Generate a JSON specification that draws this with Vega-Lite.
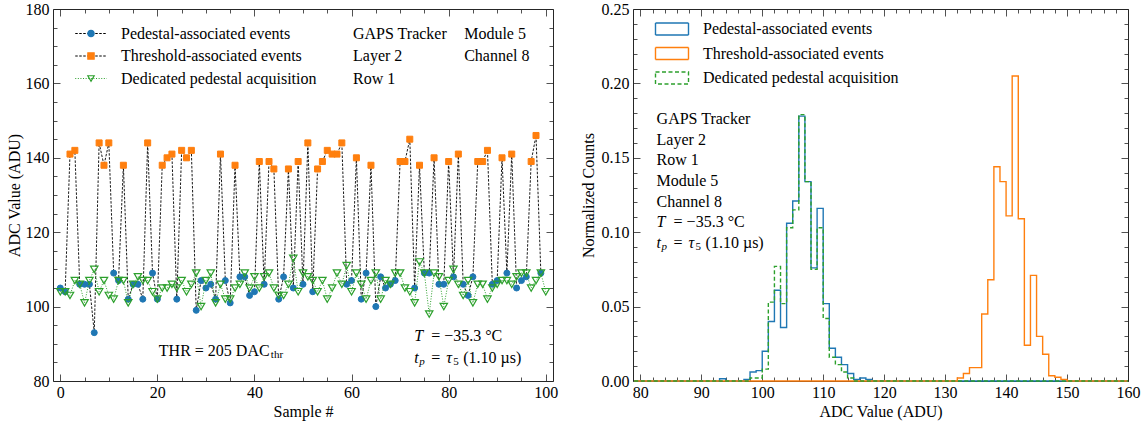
{
"$schema":"https://vega.github.io/schema/vega-lite/v6.json",
"padding":{"left":5,"top":0,"right":5,"bottom":5},
"config":{"font":"Liberation Serif","view":{"stroke":"#262626","strokeWidth":1},
"axis":{"labelFont":"Liberation Serif","labelFontSize":16,"labelColor":"black","titleFont":"Liberation Serif","titleFontSize":16,"titleFontWeight":"normal","titleColor":"black","domain":false,"grid":false,"tickColor":"#262626","tickWidth":0.8,"labelOverlap":false,"labelFlush":false,"labelBound":false},
"legend":{"labelFont":"Liberation Serif","labelFontSize":16,"labelColor":"black","padding":0,"labelLimit":400},
"text":{"font":"Liberation Serif","fontSize":16,"color":"black"}},
"datasets":{
"adc":[
{"sample":0,"adc":105,"series":"Pedestal-associated events"},{"sample":1,"adc":104,"series":"Pedestal-associated events"},{"sample":2,"adc":141,"series":"Threshold-associated events"},{"sample":3,"adc":142,"series":"Threshold-associated events"},{"sample":4,"adc":106,"series":"Pedestal-associated events"},{"sample":5,"adc":106,"series":"Pedestal-associated events"},{"sample":6,"adc":106,"series":"Pedestal-associated events"},{"sample":7,"adc":93,"series":"Pedestal-associated events"},{"sample":8,"adc":144,"series":"Threshold-associated events"},{"sample":9,"adc":138,"series":"Threshold-associated events"},
{"sample":10,"adc":144,"series":"Threshold-associated events"},{"sample":11,"adc":109,"series":"Pedestal-associated events"},{"sample":12,"adc":107,"series":"Pedestal-associated events"},{"sample":13,"adc":138,"series":"Threshold-associated events"},{"sample":14,"adc":102,"series":"Pedestal-associated events"},{"sample":15,"adc":106,"series":"Pedestal-associated events"},{"sample":16,"adc":106,"series":"Pedestal-associated events"},{"sample":17,"adc":102,"series":"Pedestal-associated events"},{"sample":18,"adc":144,"series":"Threshold-associated events"},{"sample":19,"adc":109,"series":"Pedestal-associated events"},
{"sample":20,"adc":102,"series":"Pedestal-associated events"},{"sample":21,"adc":138,"series":"Threshold-associated events"},{"sample":22,"adc":140,"series":"Threshold-associated events"},{"sample":23,"adc":141,"series":"Threshold-associated events"},{"sample":24,"adc":102,"series":"Pedestal-associated events"},{"sample":25,"adc":142,"series":"Threshold-associated events"},{"sample":26,"adc":140,"series":"Threshold-associated events"},{"sample":27,"adc":142,"series":"Threshold-associated events"},{"sample":28,"adc":99,"series":"Pedestal-associated events"},{"sample":29,"adc":107,"series":"Pedestal-associated events"},
{"sample":30,"adc":105,"series":"Pedestal-associated events"},{"sample":31,"adc":106,"series":"Pedestal-associated events"},{"sample":32,"adc":102,"series":"Pedestal-associated events"},{"sample":33,"adc":141,"series":"Threshold-associated events"},{"sample":34,"adc":107,"series":"Pedestal-associated events"},{"sample":35,"adc":101,"series":"Pedestal-associated events"},{"sample":36,"adc":138,"series":"Threshold-associated events"},{"sample":37,"adc":108,"series":"Pedestal-associated events"},{"sample":38,"adc":108,"series":"Pedestal-associated events"},{"sample":39,"adc":103,"series":"Pedestal-associated events"},
{"sample":40,"adc":104,"series":"Pedestal-associated events"},{"sample":41,"adc":139,"series":"Threshold-associated events"},{"sample":42,"adc":106,"series":"Pedestal-associated events"},{"sample":43,"adc":139,"series":"Threshold-associated events"},{"sample":44,"adc":137,"series":"Threshold-associated events"},{"sample":45,"adc":102,"series":"Pedestal-associated events"},{"sample":46,"adc":108,"series":"Pedestal-associated events"},{"sample":47,"adc":137,"series":"Threshold-associated events"},{"sample":48,"adc":105,"series":"Pedestal-associated events"},{"sample":49,"adc":139,"series":"Threshold-associated events"},
{"sample":50,"adc":106,"series":"Pedestal-associated events"},{"sample":51,"adc":144,"series":"Threshold-associated events"},{"sample":52,"adc":104,"series":"Pedestal-associated events"},{"sample":53,"adc":137,"series":"Threshold-associated events"},{"sample":54,"adc":139,"series":"Threshold-associated events"},{"sample":55,"adc":142,"series":"Threshold-associated events"},{"sample":56,"adc":141,"series":"Threshold-associated events"},{"sample":57,"adc":141,"series":"Threshold-associated events"},{"sample":58,"adc":144,"series":"Threshold-associated events"},{"sample":59,"adc":106,"series":"Pedestal-associated events"},
{"sample":60,"adc":107,"series":"Pedestal-associated events"},{"sample":61,"adc":140,"series":"Threshold-associated events"},{"sample":62,"adc":102,"series":"Pedestal-associated events"},{"sample":63,"adc":109,"series":"Pedestal-associated events"},{"sample":64,"adc":138,"series":"Threshold-associated events"},{"sample":65,"adc":100,"series":"Pedestal-associated events"},{"sample":66,"adc":108,"series":"Pedestal-associated events"},{"sample":67,"adc":105,"series":"Pedestal-associated events"},{"sample":68,"adc":106,"series":"Pedestal-associated events"},{"sample":69,"adc":107,"series":"Pedestal-associated events"},
{"sample":70,"adc":139,"series":"Threshold-associated events"},{"sample":71,"adc":139,"series":"Threshold-associated events"},{"sample":72,"adc":145,"series":"Threshold-associated events"},{"sample":73,"adc":105,"series":"Pedestal-associated events"},{"sample":74,"adc":138,"series":"Threshold-associated events"},{"sample":75,"adc":109,"series":"Pedestal-associated events"},{"sample":76,"adc":109,"series":"Pedestal-associated events"},{"sample":77,"adc":140,"series":"Threshold-associated events"},{"sample":78,"adc":106,"series":"Pedestal-associated events"},{"sample":79,"adc":106,"series":"Pedestal-associated events"},
{"sample":80,"adc":139,"series":"Threshold-associated events"},{"sample":81,"adc":108,"series":"Pedestal-associated events"},{"sample":82,"adc":141,"series":"Threshold-associated events"},{"sample":83,"adc":106,"series":"Pedestal-associated events"},{"sample":84,"adc":103,"series":"Pedestal-associated events"},{"sample":85,"adc":108,"series":"Pedestal-associated events"},{"sample":86,"adc":139,"series":"Threshold-associated events"},{"sample":87,"adc":139,"series":"Threshold-associated events"},{"sample":88,"adc":142,"series":"Threshold-associated events"},{"sample":89,"adc":106,"series":"Pedestal-associated events"},
{"sample":90,"adc":107,"series":"Pedestal-associated events"},{"sample":91,"adc":140,"series":"Threshold-associated events"},{"sample":92,"adc":109,"series":"Pedestal-associated events"},{"sample":93,"adc":141,"series":"Threshold-associated events"},{"sample":94,"adc":105,"series":"Pedestal-associated events"},{"sample":95,"adc":107,"series":"Pedestal-associated events"},{"sample":96,"adc":108,"series":"Pedestal-associated events"},{"sample":97,"adc":139,"series":"Threshold-associated events"},{"sample":98,"adc":146,"series":"Threshold-associated events"},{"sample":99,"adc":109,"series":"Pedestal-associated events"}
],
"ded":[
{"sample":0,"adc":104},{"sample":1,"adc":104},{"sample":2,"adc":103},{"sample":3,"adc":107},{"sample":4,"adc":106},{"sample":5,"adc":101},{"sample":6,"adc":107},{"sample":7,"adc":110},{"sample":8,"adc":104},{"sample":9,"adc":107},
{"sample":10,"adc":103},{"sample":11,"adc":102},{"sample":12,"adc":107},{"sample":13,"adc":107},{"sample":14,"adc":101},{"sample":15,"adc":106},{"sample":16,"adc":108},{"sample":17,"adc":107},{"sample":18,"adc":107},{"sample":19,"adc":104},
{"sample":20,"adc":102},{"sample":21,"adc":105},{"sample":22,"adc":105},{"sample":23,"adc":106},{"sample":24,"adc":105},{"sample":25,"adc":107},{"sample":26,"adc":104},{"sample":27,"adc":106},{"sample":28,"adc":109},{"sample":29,"adc":100},
{"sample":30,"adc":107},{"sample":31,"adc":109},{"sample":32,"adc":101},{"sample":33,"adc":106},{"sample":34,"adc":102},{"sample":35,"adc":102},{"sample":36,"adc":105},{"sample":37,"adc":106},{"sample":38,"adc":109},{"sample":39,"adc":105},
{"sample":40,"adc":108},{"sample":41,"adc":105},{"sample":42,"adc":108},{"sample":43,"adc":109},{"sample":44,"adc":105},{"sample":45,"adc":103},{"sample":46,"adc":103},{"sample":47,"adc":106},{"sample":48,"adc":113},{"sample":49,"adc":104},
{"sample":50,"adc":109},{"sample":51,"adc":108},{"sample":52,"adc":107},{"sample":53,"adc":104},{"sample":54,"adc":107},{"sample":55,"adc":102},{"sample":56,"adc":105},{"sample":57,"adc":109},{"sample":58,"adc":106},{"sample":59,"adc":111},
{"sample":60,"adc":104},{"sample":61,"adc":109},{"sample":62,"adc":106},{"sample":63,"adc":102},{"sample":64,"adc":107},{"sample":65,"adc":109},{"sample":66,"adc":102},{"sample":67,"adc":107},{"sample":68,"adc":106},{"sample":69,"adc":109},
{"sample":70,"adc":109},{"sample":71,"adc":105},{"sample":72,"adc":104},{"sample":73,"adc":101},{"sample":74,"adc":112},{"sample":75,"adc":109},{"sample":76,"adc":98},{"sample":77,"adc":109},{"sample":78,"adc":108},{"sample":79,"adc":100},
{"sample":80,"adc":107},{"sample":81,"adc":110},{"sample":82,"adc":106},{"sample":83,"adc":103},{"sample":84,"adc":107},{"sample":85,"adc":101},{"sample":86,"adc":106},{"sample":87,"adc":106},{"sample":88,"adc":102},{"sample":89,"adc":105},
{"sample":90,"adc":106},{"sample":91,"adc":107},{"sample":92,"adc":107},{"sample":93,"adc":106},{"sample":94,"adc":108},{"sample":95,"adc":109},{"sample":96,"adc":109},{"sample":97,"adc":105},{"sample":98,"adc":107},{"sample":99,"adc":109},{"sample":100,"adc":104}
],
"hist":[
{"adc":79,"frac":0,"s":"Pedestal-associated events"},{"adc":93,"frac":0.0015,"s":"Pedestal-associated events"},{"adc":94,"frac":0,"s":"Pedestal-associated events"},{"adc":97,"frac":0.001,"s":"Pedestal-associated events"},{"adc":98,"frac":0.006,"s":"Pedestal-associated events"},{"adc":99,"frac":0.007,"s":"Pedestal-associated events"},{"adc":100,"frac":0.020,"s":"Pedestal-associated events"},{"adc":101,"frac":0.040,"s":"Pedestal-associated events"},{"adc":102,"frac":0.061,"s":"Pedestal-associated events"},{"adc":103,"frac":0.036,"s":"Pedestal-associated events"},{"adc":104,"frac":0.106,"s":"Pedestal-associated events"},{"adc":105,"frac":0.121,"s":"Pedestal-associated events"},{"adc":106,"frac":0.178,"s":"Pedestal-associated events"},{"adc":107,"frac":0.134,"s":"Pedestal-associated events"},{"adc":108,"frac":0.076,"s":"Pedestal-associated events"},{"adc":109,"frac":0.116,"s":"Pedestal-associated events"},{"adc":110,"frac":0.052,"s":"Pedestal-associated events"},{"adc":111,"frac":0.022,"s":"Pedestal-associated events"},{"adc":112,"frac":0.016,"s":"Pedestal-associated events"},{"adc":113,"frac":0.011,"s":"Pedestal-associated events"},{"adc":114,"frac":0.005,"s":"Pedestal-associated events"},{"adc":115,"frac":0.001,"s":"Pedestal-associated events"},{"adc":116,"frac":0.002,"s":"Pedestal-associated events"},{"adc":117,"frac":0.001,"s":"Pedestal-associated events"},{"adc":118,"frac":0,"s":"Pedestal-associated events"},{"adc":160,"frac":0,"s":"Pedestal-associated events"},
{"adc":79,"frac":0,"s":"Threshold-associated events"},{"adc":132,"frac":0.002,"s":"Threshold-associated events"},{"adc":133,"frac":0.005,"s":"Threshold-associated events"},{"adc":134,"frac":0.009,"s":"Threshold-associated events"},{"adc":135,"frac":0.009,"s":"Threshold-associated events"},{"adc":136,"frac":0.045,"s":"Threshold-associated events"},{"adc":137,"frac":0.068,"s":"Threshold-associated events"},{"adc":138,"frac":0.144,"s":"Threshold-associated events"},{"adc":139,"frac":0.134,"s":"Threshold-associated events"},{"adc":140,"frac":0.111,"s":"Threshold-associated events"},{"adc":141,"frac":0.205,"s":"Threshold-associated events"},{"adc":142,"frac":0.109,"s":"Threshold-associated events"},{"adc":143,"frac":0.024,"s":"Threshold-associated events"},{"adc":144,"frac":0.071,"s":"Threshold-associated events"},{"adc":145,"frac":0.030,"s":"Threshold-associated events"},{"adc":146,"frac":0.018,"s":"Threshold-associated events"},{"adc":147,"frac":0.0035,"s":"Threshold-associated events"},{"adc":148,"frac":0.0025,"s":"Threshold-associated events"},{"adc":149,"frac":0.001,"s":"Threshold-associated events"},{"adc":150,"frac":0,"s":"Threshold-associated events"},{"adc":160,"frac":0,"s":"Threshold-associated events"},
{"adc":79,"frac":0,"s":"Dedicated pedestal acquisition"},{"adc":98,"frac":0.002,"s":"Dedicated pedestal acquisition"},{"adc":99,"frac":0.002,"s":"Dedicated pedestal acquisition"},{"adc":100,"frac":0.008,"s":"Dedicated pedestal acquisition"},{"adc":101,"frac":0.053,"s":"Dedicated pedestal acquisition"},{"adc":102,"frac":0.077,"s":"Dedicated pedestal acquisition"},{"adc":103,"frac":0.052,"s":"Dedicated pedestal acquisition"},{"adc":104,"frac":0.103,"s":"Dedicated pedestal acquisition"},{"adc":105,"frac":0.115,"s":"Dedicated pedestal acquisition"},{"adc":106,"frac":0.179,"s":"Dedicated pedestal acquisition"},{"adc":107,"frac":0.134,"s":"Dedicated pedestal acquisition"},{"adc":108,"frac":0.075,"s":"Dedicated pedestal acquisition"},{"adc":109,"frac":0.103,"s":"Dedicated pedestal acquisition"},{"adc":110,"frac":0.042,"s":"Dedicated pedestal acquisition"},{"adc":111,"frac":0.016,"s":"Dedicated pedestal acquisition"},{"adc":112,"frac":0.011,"s":"Dedicated pedestal acquisition"},{"adc":113,"frac":0.006,"s":"Dedicated pedestal acquisition"},{"adc":114,"frac":0.002,"s":"Dedicated pedestal acquisition"},{"adc":115,"frac":0,"s":"Dedicated pedestal acquisition"},{"adc":160,"frac":0,"s":"Dedicated pedestal acquisition"}
]},
"spacing":80,
"bounds":"flush",
"resolve":{"scale":{"color":"independent","strokeDash":"independent","shape":"independent","fill":"independent","stroke":"independent"},"legend":{"color":"independent","strokeDash":"independent","shape":"independent","fill":"independent","stroke":"independent"}},
"hconcat":[
{"width":500,"height":372,
"layer":[
{"data":{"name":"adc"},
"mark":{"type":"line","strokeWidth":0.9},
"encoding":{
"x":{"field":"sample","type":"quantitative","scale":{"domain":[-1.5,101.5],"nice":false,"zero":false},
"axis":{"orient":"bottom","title":"Sample #","values":[0,5,10,15,20,25,30,35,40,45,50,55,60,65,70,75,80,85,90,95,100],"labelExpr":"datum.value % 20 === 0 ? datum.label : ''","tickSize":{"condition":{"test":"datum.value % 20 === 0","value":-7},"value":-4},"labelPadding":10.5,"titlePadding":0}},
"y":{"field":"adc","type":"quantitative","scale":{"domain":[80,180],"nice":false,"zero":false},
"axis":{"orient":"left","title":"ADC Value (ADU)","values":[80,85,90,95,100,105,110,115,120,125,130,135,140,145,150,155,160,165,170,175,180],"labelExpr":"datum.value % 20 === 0 ? datum.label : ''","tickSize":{"condition":{"test":"datum.value % 20 === 0","value":-7},"value":-4},"labelPadding":11,"titlePadding":3}},
"color":{"datum":"L1","type":"nominal","scale":{"domain":["L1","L2","L3"],"range":["black","black","#2ca02c"]},
"legend":{"orient":"none","legendX":30,"legendY":16.5,"title":null,"symbolType":"M-4.7,0H4.7","symbolSize":45,"symbolStrokeWidth":1,"labelExpr":"' '","labelOffset":22,"rowPadding":6.5,"padding":0}},
"strokeDash":{"datum":"L1","type":"nominal","scale":{"domain":["L1","L2","L3"],"range":[[2.5,1.5],[2.5,1.5],[1,1.6]]},
"legend":{"orient":"none","legendX":30,"legendY":16.5,"title":null,"symbolType":"M-4.7,0H4.7","symbolSize":45,"symbolStrokeWidth":1,"labelExpr":"' '","labelOffset":22,"rowPadding":6.5,"padding":0}}
}},
{"data":{"name":"adc"},
"mark":{"type":"point","filled":true,"size":36,"strokeWidth":1,"opacity":1},
"encoding":{
"x":{"field":"sample","type":"quantitative","axis":null},
"y":{"field":"adc","type":"quantitative","axis":null},
"shape":{"field":"series","type":"nominal","scale":{"domain":["Pedestal-associated events","Threshold-associated events","Dedicated pedestal acquisition"],"range":["circle","square","triangle-down"]},
"legend":{"orient":"none","legendX":30,"legendY":16.5,"title":null,"symbolSize":40,"labelOffset":22,"rowPadding":6.5,"padding":0,"symbolStrokeWidth":1.2}},
"fill":{"field":"series","type":"nominal","scale":{"domain":["Pedestal-associated events","Threshold-associated events","Dedicated pedestal acquisition"],"range":["#1f77b4","#ff7f0e","transparent"]},
"legend":{"orient":"none","legendX":30,"legendY":16.5,"title":null,"symbolSize":40,"labelOffset":22,"rowPadding":6.5,"padding":0,"symbolStrokeWidth":1.2}},
"stroke":{"field":"series","type":"nominal","scale":{"domain":["Pedestal-associated events","Threshold-associated events","Dedicated pedestal acquisition"],"range":["#1f77b4","#ff7f0e","#2ca02c"]},
"legend":{"orient":"none","legendX":30,"legendY":16.5,"title":null,"symbolSize":40,"labelOffset":22,"rowPadding":6.5,"padding":0,"symbolStrokeWidth":1.2}}
}},
{"data":{"name":"ded"},
"mark":{"type":"line","strokeWidth":1},
"encoding":{
"x":{"field":"sample","type":"quantitative","axis":null},
"y":{"field":"adc","type":"quantitative","axis":null},
"color":{"datum":"L3","type":"nominal"},
"strokeDash":{"datum":"L3","type":"nominal"}
}},
{"data":{"name":"ded"},
"mark":{"type":"point","filled":true,"size":55,"strokeWidth":1.2,"opacity":1},
"encoding":{
"x":{"field":"sample","type":"quantitative","axis":{"orient":"top","title":null,"labels":false,"values":[0,5,10,15,20,25,30,35,40,45,50,55,60,65,70,75,80,85,90,95,100],"tickSize":{"condition":{"test":"datum.value % 20 === 0","value":-7},"value":-4}}},
"y":{"field":"adc","type":"quantitative","axis":{"orient":"right","title":null,"labels":false,"values":[80,85,90,95,100,105,110,115,120,125,130,135,140,145,150,155,160,165,170,175,180],"tickSize":{"condition":{"test":"datum.value % 20 === 0","value":-7},"value":-4}}},
"shape":{"datum":"Dedicated pedestal acquisition","type":"nominal"},
"fill":{"datum":"Dedicated pedestal acquisition","type":"nominal"},
"stroke":{"datum":"Dedicated pedestal acquisition","type":"nominal"}
}},
{"data":{"values":[{}]},"mark":{"type":"text","text":"GAPS Tracker\nLayer 2\nRow 1","lineBreak":"\n","lineHeight":22.5,"align":"left","baseline":"middle","fontSize":16},
"encoding":{"x":{"datum":60.3,"type":"quantitative","axis":null},"y":{"datum":173.4,"type":"quantitative","axis":null}}},
{"data":{"values":[{}]},"mark":{"type":"text","text":"Module 5\nChannel 8","lineBreak":"\n","lineHeight":22.5,"align":"left","baseline":"middle","fontSize":16},
"encoding":{"x":{"datum":83.2,"type":"quantitative","axis":null},"y":{"datum":173.4,"type":"quantitative","axis":null}}},
{"data":{"values":[{}]},"mark":{"type":"text","text":"THR = 205 DAC","align":"left","baseline":"middle","fontSize":16},
"encoding":{"x":{"datum":20.3,"type":"quantitative","axis":null},"y":{"datum":88.1,"type":"quantitative","axis":null}}},
{"data":{"values":[{}]},"mark":{"type":"text","text":"thr","align":"left","baseline":"middle","fontSize":11,"dx":112,"dy":4},
"encoding":{"x":{"datum":20.3,"type":"quantitative","axis":null},"y":{"datum":88.1,"type":"quantitative","axis":null}}},
{"data":{"values":[{}]},"mark":{"type":"text","text":"T","align":"left","baseline":"middle","fontSize":16,"fontStyle":"italic"},
"encoding":{"x":{"datum":72.9,"type":"quantitative","axis":null},"y":{"datum":92.1,"type":"quantitative","axis":null}}},
{"data":{"values":[{}]},"mark":{"type":"text","text":"= −35.3 °C","align":"left","baseline":"middle","fontSize":16,"dx":17},
"encoding":{"x":{"datum":72.9,"type":"quantitative","axis":null},"y":{"datum":92.1,"type":"quantitative","axis":null}}},
{"data":{"values":[{}]},"mark":{"type":"text","text":"t","align":"left","baseline":"middle","fontSize":16,"fontStyle":"italic"},
"encoding":{"x":{"datum":72.9,"type":"quantitative","axis":null},"y":{"datum":86.2,"type":"quantitative","axis":null}}},
{"data":{"values":[{}]},"mark":{"type":"text","text":"p","align":"left","baseline":"middle","fontSize":11,"fontStyle":"italic","dx":5,"dy":4},
"encoding":{"x":{"datum":72.9,"type":"quantitative","axis":null},"y":{"datum":86.2,"type":"quantitative","axis":null}}},
{"data":{"values":[{}]},"mark":{"type":"text","text":"=","align":"left","baseline":"middle","fontSize":16,"dx":17},
"encoding":{"x":{"datum":72.9,"type":"quantitative","axis":null},"y":{"datum":86.2,"type":"quantitative","axis":null}}},
{"data":{"values":[{}]},"mark":{"type":"text","text":"τ","align":"left","baseline":"middle","fontSize":16,"fontStyle":"italic","dx":32},
"encoding":{"x":{"datum":72.9,"type":"quantitative","axis":null},"y":{"datum":86.2,"type":"quantitative","axis":null}}},
{"data":{"values":[{}]},"mark":{"type":"text","text":"5","align":"left","baseline":"middle","fontSize":11,"dx":39,"dy":4},
"encoding":{"x":{"datum":72.9,"type":"quantitative","axis":null},"y":{"datum":86.2,"type":"quantitative","axis":null}}},
{"data":{"values":[{}]},"mark":{"type":"text","text":"(1.10 µs)","align":"left","baseline":"middle","fontSize":16,"dx":49},
"encoding":{"x":{"datum":72.9,"type":"quantitative","axis":null},"y":{"datum":86.2,"type":"quantitative","axis":null}}}
],
"resolve":{"axis":{"x":"independent","y":"independent"}}
},
{"width":495,"height":372,
"layer":[
{"data":{"name":"hist"},"transform":[{"filter":"datum.s !== 'Dedicated pedestal acquisition'"}],
"mark":{"type":"line","interpolate":"step-after","strokeWidth":1.4},
"encoding":{
"x":{"field":"adc","type":"quantitative","scale":{"domain":[78.8,160],"nice":false,"zero":false},
"axis":{"orient":"bottom","title":"ADC Value (ADU)","values":[80,82,84,86,88,90,92,94,96,98,100,102,104,106,108,110,112,114,116,118,120,122,124,126,128,130,132,134,136,138,140,142,144,146,148,150,152,154,156,158,160],"labelExpr":"datum.value % 10 === 0 ? datum.label : ''","tickSize":{"condition":{"test":"datum.value % 10 === 0","value":-7},"value":-4},"labelPadding":10.5,"titlePadding":0}},
"y":{"field":"frac","type":"quantitative","scale":{"domain":[0,0.25],"nice":false},
"axis":{"orient":"left","title":"Normalized Counts","values":[0,0.01,0.02,0.03,0.04,0.05,0.06,0.07,0.08,0.09,0.1,0.11,0.12,0.13,0.14,0.15,0.16,0.17,0.18,0.19,0.2,0.21,0.22,0.23,0.24,0.25],"labelExpr":"round(datum.value*100) % 5 === 0 ? format(datum.value, '.2f') : ''","tickSize":{"condition":{"test":"round(datum.value*100) % 5 === 0","value":-7},"value":-4},"labelPadding":11,"titlePadding":5}},
"color":{"field":"s","type":"nominal","scale":{"domain":["Pedestal-associated events","Threshold-associated events","Dedicated pedestal acquisition"],"range":["#1f77b4","#ff7f0e","#2ca02c"]},
"legend":{"orient":"none","legendX":31,"legendY":12,"title":null,"symbolType":"M-5.5,-2H5.5V2H-5.5Z","symbolSize":36,"symbolStrokeWidth":1.4,"labelOffset":23,"rowPadding":6.5,"padding":0}},
"strokeDash":{"field":"s","type":"nominal","scale":{"domain":["Pedestal-associated events","Threshold-associated events","Dedicated pedestal acquisition"],"range":[[1,0],[1,0],[4,2.5]]},
"legend":{"orient":"none","legendX":31,"legendY":12,"title":null,"symbolType":"M-5.5,-2H5.5V2H-5.5Z","symbolSize":36,"symbolStrokeWidth":1.4,"labelOffset":23,"rowPadding":6.5,"padding":0}}
}},
{"data":{"name":"hist"},"transform":[{"filter":"datum.s === 'Dedicated pedestal acquisition'"}],
"mark":{"type":"line","interpolate":"step-after","strokeWidth":1.4},
"encoding":{
"x":{"field":"adc","type":"quantitative","axis":{"orient":"top","title":null,"labels":false,"values":[80,82,84,86,88,90,92,94,96,98,100,102,104,106,108,110,112,114,116,118,120,122,124,126,128,130,132,134,136,138,140,142,144,146,148,150,152,154,156,158,160],"tickSize":{"condition":{"test":"datum.value % 10 === 0","value":-7},"value":-4}}},
"y":{"field":"frac","type":"quantitative","axis":{"orient":"right","title":null,"labels":false,"values":[0,0.01,0.02,0.03,0.04,0.05,0.06,0.07,0.08,0.09,0.1,0.11,0.12,0.13,0.14,0.15,0.16,0.17,0.18,0.19,0.2,0.21,0.22,0.23,0.24,0.25],"tickSize":{"condition":{"test":"round(datum.value*100) % 5 === 0","value":-7},"value":-4}}},
"color":{"field":"s","type":"nominal"},
"strokeDash":{"field":"s","type":"nominal"}
}},
{"data":{"values":[{}]},"mark":{"type":"text","text":"GAPS Tracker\nLayer 2\nRow 1\nModule 5\nChannel 8","lineBreak":"\n","lineHeight":20.75,"align":"left","baseline":"middle","fontSize":16},
"encoding":{"x":{"datum":82.67,"type":"quantitative","axis":null},"y":{"datum":0.1761,"type":"quantitative","axis":null}}},
{"data":{"values":[{}]},"mark":{"type":"text","text":"T","align":"left","baseline":"middle","fontSize":16,"fontStyle":"italic"},
"encoding":{"x":{"datum":82.67,"type":"quantitative","axis":null},"y":{"datum":0.1069,"type":"quantitative","axis":null}}},
{"data":{"values":[{}]},"mark":{"type":"text","text":"= −35.3 °C","align":"left","baseline":"middle","fontSize":16,"dx":17},
"encoding":{"x":{"datum":82.67,"type":"quantitative","axis":null},"y":{"datum":0.1069,"type":"quantitative","axis":null}}},
{"data":{"values":[{}]},"mark":{"type":"text","text":"t","align":"left","baseline":"middle","fontSize":16,"fontStyle":"italic"},
"encoding":{"x":{"datum":82.67,"type":"quantitative","axis":null},"y":{"datum":0.0927,"type":"quantitative","axis":null}}},
{"data":{"values":[{}]},"mark":{"type":"text","text":"p","align":"left","baseline":"middle","fontSize":11,"fontStyle":"italic","dx":5,"dy":4},
"encoding":{"x":{"datum":82.67,"type":"quantitative","axis":null},"y":{"datum":0.0927,"type":"quantitative","axis":null}}},
{"data":{"values":[{}]},"mark":{"type":"text","text":"=","align":"left","baseline":"middle","fontSize":16,"dx":17},
"encoding":{"x":{"datum":82.67,"type":"quantitative","axis":null},"y":{"datum":0.0927,"type":"quantitative","axis":null}}},
{"data":{"values":[{}]},"mark":{"type":"text","text":"τ","align":"left","baseline":"middle","fontSize":16,"fontStyle":"italic","dx":32},
"encoding":{"x":{"datum":82.67,"type":"quantitative","axis":null},"y":{"datum":0.0927,"type":"quantitative","axis":null}}},
{"data":{"values":[{}]},"mark":{"type":"text","text":"5","align":"left","baseline":"middle","fontSize":11,"dx":39,"dy":4},
"encoding":{"x":{"datum":82.67,"type":"quantitative","axis":null},"y":{"datum":0.0927,"type":"quantitative","axis":null}}},
{"data":{"values":[{}]},"mark":{"type":"text","text":"(1.10 µs)","align":"left","baseline":"middle","fontSize":16,"dx":49},
"encoding":{"x":{"datum":82.67,"type":"quantitative","axis":null},"y":{"datum":0.0927,"type":"quantitative","axis":null}}}
],
"resolve":{"axis":{"x":"independent","y":"independent"}}
}
]
}
